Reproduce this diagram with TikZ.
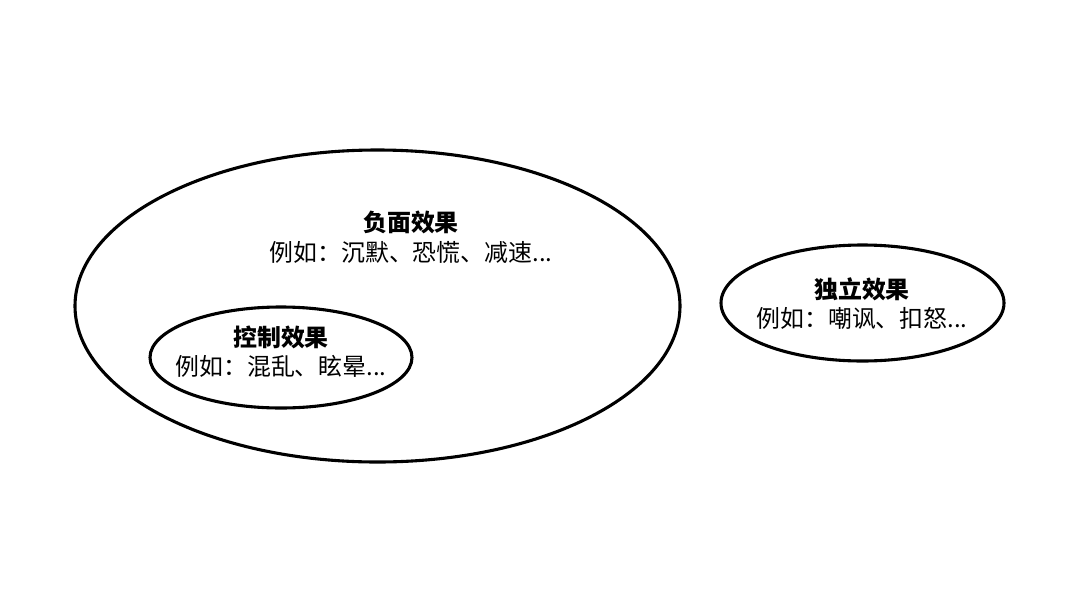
\documentclass[tikz,border=0pt]{standalone}
\usepackage{fontspec}
\setmainfont{Noto Sans CJK SC}
\usepackage{tikz}
\tikzset{
	title/.style={font=\fontsize{17}{20}\selectfont\bfseries},
	example/.style={font=\fontsize{17}{20}\selectfont}
}

\begin{document}
\begin{tikzpicture}[x=0.025cm, y=-0.025cm]
		\useasboundingbox (0, 0) rectangle (1080, 606);

		\draw[line width=2.2pt, black]	(377.5, 306) ellipse (302.5 and 156);
		\draw[line width=2.2pt, black]	(281, 357.5) ellipse (131 and 50.5);
		\draw[line width=2.2pt, black]	(862.5, 303) ellipse (141.5 and 58);

		\node[title]	(neg) 		at (411, 222) {负面效果};
		\node[example]	(negex) 	at (411, 252) {例如：沉默、恐慌、减速...};

		\node[title]	(ctrl) 		at (281, 337) {控制效果};
		\node[example]	(ctrlex) 	at (281, 366) {例如：混乱、眩晕...};

		\node[title]	(indep) 	at (862, 289) {独立效果};
		\node[example]	(indepex) 	at (862, 318) {例如：嘲讽、扣怒...};
	\end{tikzpicture}
\end{document}
